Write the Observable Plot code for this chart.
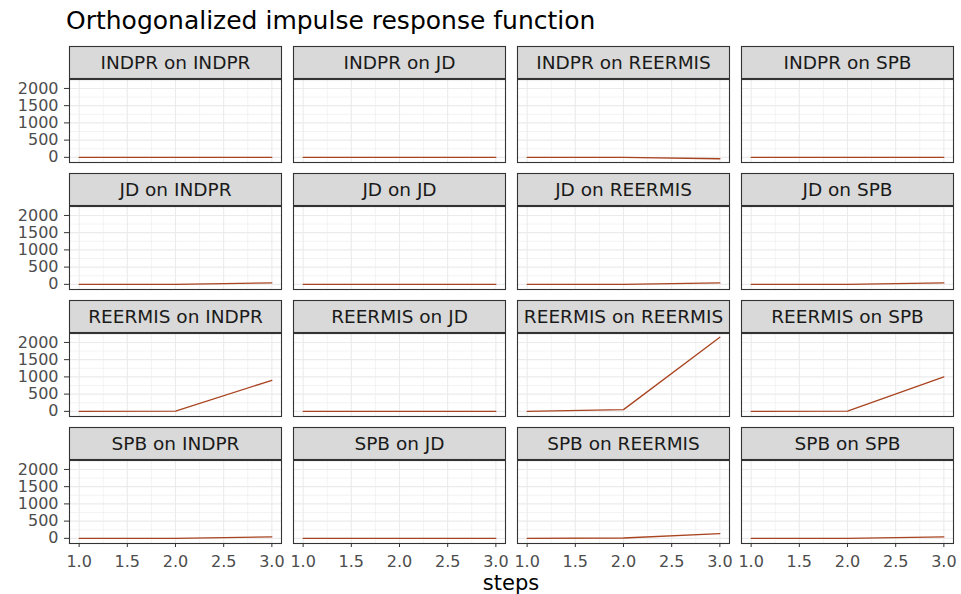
<!DOCTYPE html>
<html>
<head>
<meta charset="utf-8">
<script src="https://cdn.jsdelivr.net/npm/d3@7"></script>
<script src="https://cdn.jsdelivr.net/npm/@observablehq/plot@0.6"></script>
<style>
  html, body { margin: 0; padding: 0; background: #ffffff; }
  body { width: 961px; height: 594px; overflow: hidden; font-family: "DejaVu Sans", sans-serif; }
  #title { height: 38px; box-sizing: border-box; padding-top: 3px; padding-left: 66px; font-size: 25px; line-height: 35px; color: #000; white-space: nowrap; }
  #xlabel { height: 22px; line-height: 22px; font-size: 21px; color: #000; text-align: center; padding-left: 67px; padding-right: 6px; }
  #chart svg { display: block; }
  #chart g[aria-label="y-axis tick label"], #chart g[aria-label="x-axis tick label"] { fill: #4d4d4d; }
  #chart g[aria-label="y-axis tick"], #chart g[aria-label="x-axis tick"] { stroke: #333333; }
</style>
</head>
<body>
<div id="title">Orthogonalized impulse response function</div>
<div id="chart"></div>
<div id="xlabel">steps</div>
<script>
// ---- data ----
const variables = ["INDPR", "JD", "REERMIS", "SPB"];   // impulse (rows) and response (columns)
const steps = [1, 2, 3];
// responses of INDPR, JD, REERMIS, SPB to a shock in each impulse variable
const indprImpulse   = [[0, 0, 0],   [0, 0, 0], [0, 0, -40],   [0, 0, 0]];
const jdImpulse      = [[0, 0, 45],  [0, 0, 0], [0, 0, 40],    [0, 0, 40]];
const reermisImpulse = [[0, 5, 900], [0, 0, 0], [0, 50, 2150], [0, 5, 1000]];
const spbImpulse     = [[0, 0, 45],  [0, 0, 0], [0, 10, 140],  [0, 0, 40]];
const xTicks = [1.0, 1.5, 2.0, 2.5, 3.0];
const xMinor = [1.25, 1.75, 2.25, 2.75];
const yTicks = [0, 500, 1000, 1500, 2000];
const yMinor = [250, 750, 1250, 1750, 2250];

const byImpulse = [indprImpulse, jdImpulse, reermisImpulse, spbImpulse];
const rows = [];
const panels = [];
variables.forEach((imp, i) => {
  variables.forEach((res, j) => {
    panels.push({impulse: imp, response: res, label: `${imp} on ${res}`});
    steps.forEach((s, k) => rows.push({impulse: imp, response: res, step: s, value: byImpulse[i][j][k]}));
  });
});

// ggplot-like 5% expansion of the scales
const yExt = d3.extent(rows, d => d.value);
const yPad = 0.05 * (yExt[1] - yExt[0]);
const xExt = d3.extent(steps);
const xPad = 0.05 * (xExt[1] - xExt[0]);

const stripH = 33;
const cellH = 117;

const font = "DejaVu Sans";
const chart = Plot.plot({
  width: 961,
  height: 534,
  marginLeft: 67,
  marginRight: 6,
  marginTop: 6,
  marginBottom: 27,
  style: {fontFamily: font, background: "#ffffff", color: "#333333"},
  fx: {domain: variables, axis: null, paddingInner: 0.0533, paddingOuter: 0},
  fy: {domain: variables, axis: null, paddingInner: 0.0859, paddingOuter: 0},
  x: {domain: [xExt[0] - xPad, xExt[1] + xPad]},
  y: {domain: [yExt[0] - yPad, yExt[1] + yPad], insetTop: stripH},
  marks: [
    Plot.frame({fill: "#ffffff", insetTop: stripH}),
    Plot.ruleY(yMinor, {stroke: "#ebebeb", strokeWidth: 0.6}),
    Plot.ruleX(xMinor, {stroke: "#ebebeb", strokeWidth: 0.6}),
    Plot.ruleY(yTicks, {stroke: "#ebebeb", strokeWidth: 1.1}),
    Plot.ruleX(xTicks, {stroke: "#ebebeb", strokeWidth: 1.1}),
    Plot.line(rows, {x: "step", y: "value", fx: "response", fy: "impulse", stroke: "#a94420", strokeWidth: 1.3}),
    Plot.frame({fill: "#d9d9d9", stroke: "#333333", strokeWidth: 1.1, insetBottom: cellH - stripH}),
    Plot.frame({stroke: "#333333", strokeWidth: 1.1, insetTop: stripH}),
    Plot.text(panels, {fx: "response", fy: "impulse", text: "label", frameAnchor: "top", lineAnchor: "middle", dy: stripH / 2, fontSize: 18.5, fill: "#1a1a1a", fontFamily: font}),
    Plot.axisY({ticks: yTicks, tickFormat: d3.format("d"), tickSize: 5, tickPadding: 6, fontSize: 16, label: null, fontFamily: font}),
    Plot.axisX({ticks: xTicks, tickFormat: d3.format(".1f"), tickSize: 4, tickPadding: 8, fontSize: 16, label: null, fontFamily: font})
  ]
});
document.getElementById("chart").appendChild(chart);
</script>
</body>
</html>
